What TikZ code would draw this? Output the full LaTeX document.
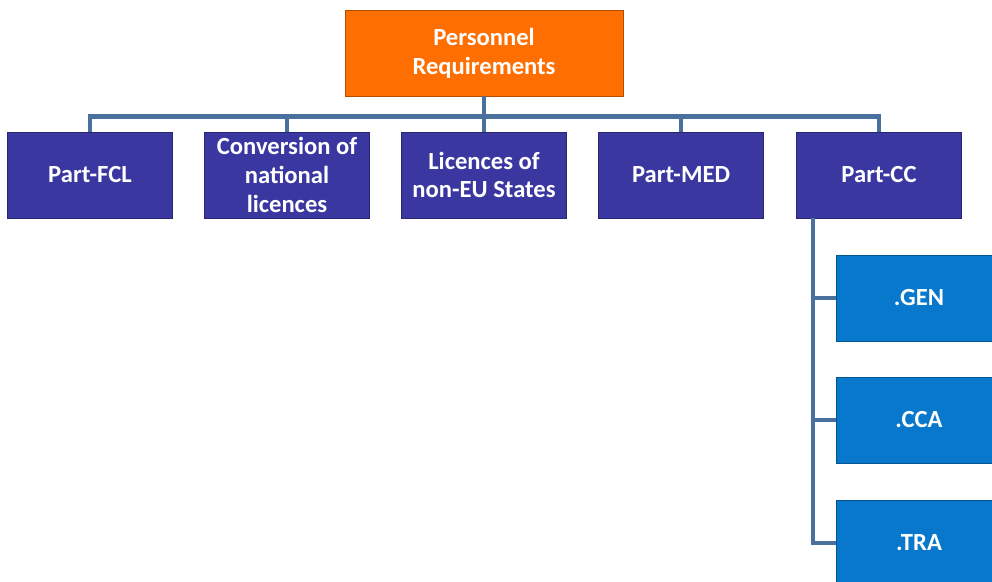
\documentclass[tikz,border=0pt]{standalone}
\usepackage{fontspec}
\setmainfont{Carlito}
\definecolor{headorange}{RGB}{255,110,0}
\definecolor{partblue}{RGB}{58,56,160}
\definecolor{subblue}{RGB}{8,120,204}
\definecolor{linkblue}{RGB}{74,112,158}
\tikzset{
  box/.style={draw=#1!70!black, fill=#1, line width=.6pt, text=white,
    font=\fontsize{17.5}{20.5}\selectfont\bfseries, align=center,
    minimum width=4.125cm, minimum height=2.15cm, inner sep=1pt},
  link/.style={draw=linkblue, line width=3pt}
}
\begin{document}
\begin{tikzpicture}[x=.025cm,y=-.025cm]
  \clip (0,0) rectangle (992,581);
  \fill[white] (0,0) rectangle (992,581);
  \node[box=headorange, minimum width=6.95cm] (pers) at (484,53) {Personnel\\Requirements};
  \node[box=partblue] (fcl) at (90,175) {Part-FCL};
  \node[box=partblue] (conv) at (287,175) {Conversion of\\national\\licences};
  \node[box=partblue] (noneu) at (484,175) {Licences of\\non-EU States};
  \node[box=partblue] (med) at (681,175) {Part-MED};
  \node[box=partblue] (cc) at (879,175) {Part-CC};
  \node[box=subblue] (gen) at (919,298) {.GEN};
  \node[box=subblue] (cca) at (919,420) {.CCA};
  \node[box=subblue] (tra) at (919,543) {.TRA};
  % connectors
  \foreach \c in {fcl,conv,noneu,med,cc}
    \draw[link] (pers.south) -- ++(0,20) -| (\c.north);
  \foreach \s in {gen,cca,tra}
    \draw[link] ([xshift=.425cm]cc.south west) |- (\s.west);
\end{tikzpicture}
\end{document}
